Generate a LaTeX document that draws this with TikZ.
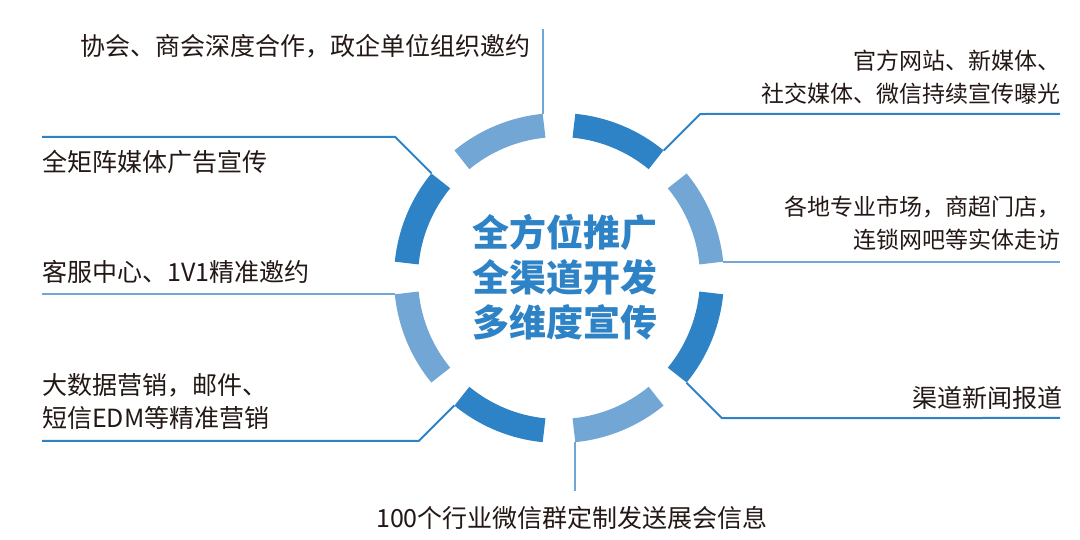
\documentclass[tikz,border=0pt]{standalone}
\usepackage{fontspec}
\newfontfamily\cjkfont{Noto Sans CJK SC}
\definecolor{darkblue}{RGB}{46,131,198}
\definecolor{lightblue}{RGB}{114,166,213}
\definecolor{inkgray}{RGB}{35,24,21}
\tikzset{
  seg/.style={line width=24pt},
  link/.style={line width=2pt},
  lbl/.style={font=\cjkfont\fontsize{25}{33}\selectfont, text=inkgray, inner sep=0pt},
  smalllbl/.style={lbl, font=\cjkfont\fontsize{23}{33}\selectfont},
  headline/.style={font=\cjkfont\bfseries\fontsize{37}{45}\selectfont, text=darkblue, inner sep=0pt, align=center},
}

\begin{document}
\begin{tikzpicture}[x=1pt,y=1pt]
  \useasboundingbox (0,0) rectangle (1080,540);
  \fill[white] (0,0) rectangle (1080,540);
  \coordinate (C) at (559,262);

  % Ring segments
  \foreach \a/\c in {112.5/lightblue,67.5/darkblue,22.5/lightblue,-22.5/darkblue,
                     -67.5/lightblue,-112.5/darkblue,-157.5/lightblue,157.5/darkblue} {
    \draw[seg,\c] (C) ++({\a-16.9}:153) arc[start angle={\a-16.9}, end angle={\a+16.9}, radius=153pt];
  }

  % Segment ends (outer corners)
  \foreach \n/\a in {1/95.6,2/50.6,3/5.6,4/-39.4,5/-84.4,6/-129.4,7/185.6,8/140.6}
    \path (C) +(\a:165) coordinate (s\n);

  % Free ends of connectors
  \coordinate (e1) at (543,511);
  \coordinate (e2) at (1060,426);
  \coordinate (e3) at (1060,278);
  \coordinate (e4) at (1060,122);
  \coordinate (e5) at (575,49);
  \coordinate (e6) at (42,99);
  \coordinate (e7) at (42,246);
  \coordinate (e8) at (42,403);

  % Connectors
  \draw[link,lightblue] (s1) -- (s1 |- e1);
  \draw[link,darkblue] (s2) -- ++(36.5,36.5) -- (e2);
  \draw[link,lightblue] (s3) -- (s3 -| e3);
  \draw[link,darkblue] (s4) -- ++(35.3,-35.3) -- (e4);
  \draw[link,lightblue] (s5) -- (s5 |- e5);
  \draw[link,darkblue] (s6) -- ++(-35.5,-35.5) -- (e6);
  \draw[link,lightblue] (s7) -- (s7 -| e7);
  \draw[link,darkblue] (s8) -- ++(-36.3,36.3) -- (e8);

  % Labels
  \node[lbl,anchor=east] (assoc) at (531,494) {协会、商会深度合作，政企单位组织邀约};
  \node[smalllbl,anchor=east,align=right] (web) at (1061,463) {官方网站、新媒体、\\社交媒体、微信持续宣传曝光};
  \node[smalllbl,anchor=east,align=right] (store) at (1061,316.5) {各地专业市场，商超门店，\\连锁网吧等实体走访};
  \node[lbl,anchor=east] (news) at (1063,142.5) {渠道新闻报道};
  \node[lbl] (wechat) at (572,22.5) {100个行业微信群定制发送展会信息};
  \node[lbl,anchor=west] (matrix) at (42,378) {全矩阵媒体广告宣传};
  \node[lbl,anchor=west] (service) at (42,268) {客服中心、1V1精准邀约};
  \node[lbl,anchor=west,align=left] (bigdata) at (42,138) {大数据营销，邮件、\\短信EDM等精准营销};

  % Centre title
  \node[headline] (title) at (565,263) {全方位推广\\全渠道开发\\多维度宣传};
\end{tikzpicture}
\end{document}
